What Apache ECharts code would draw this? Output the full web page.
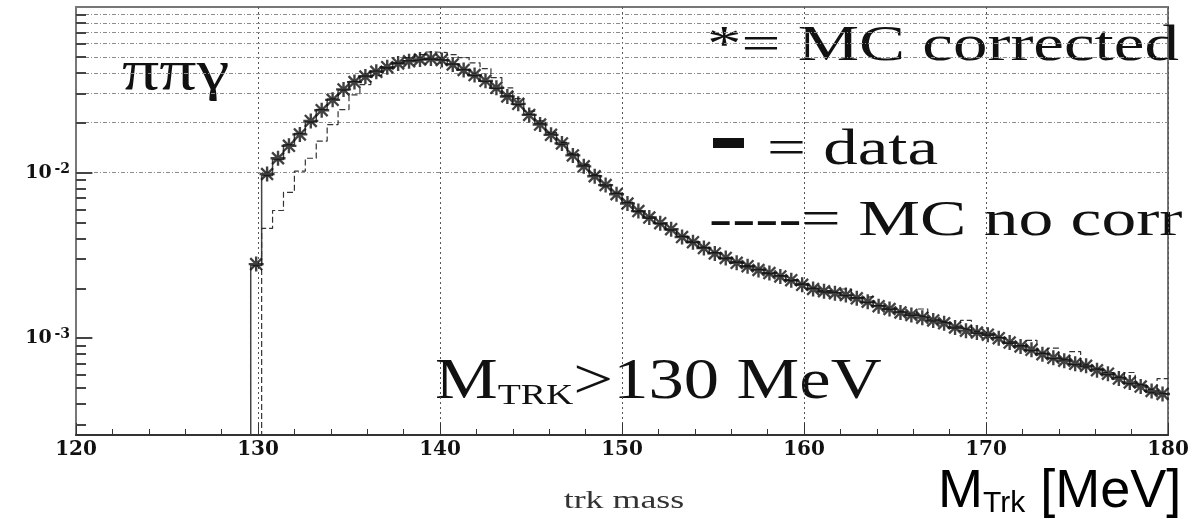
<!DOCTYPE html>
<html>
<head>
<meta charset="utf-8">
<script src="https://cdn.jsdelivr.net/npm/echarts@6/dist/echarts.min.js"></script>
<style>
html, body { margin: 0; padding: 0; background: #fff; }
#chart { width: 1193px; height: 519px; }
</style>
</head>
<body>
<div id="chart"></div>
<script>
// Axis ranges
const X_MIN = 120, X_MAX = 180, X_STEP = 10;
const Y_MIN = 2.6e-4, Y_MAX = 0.1;

// Histogram binning (0.6 MeV bins, first filled bin starts at 129.6 MeV)
const BIN_START = 129.6, BIN_WIDTH = 0.6;

// Decade labels on the log axis
const yDecades = [1e-3, 1e-2];
const yDecadeExp = ['-3', '-2'];

// Horizontal grid levels (2..9 x 10^n)
const yGridValues = [
  3e-4, 4e-4, 5e-4, 6e-4, 7e-4, 8e-4, 9e-4,
  1e-3, 2e-3, 3e-3, 4e-3, 5e-3, 6e-3, 7e-3, 8e-3, 9e-3,
  1e-2, 2e-2, 3e-2, 4e-2, 5e-2, 6e-2, 7e-2, 8e-2, 9e-2
];

// MC with corrections (asterisks), per bin
const mcCorrected = [
  2.8e-3, 9.8e-3, 1.22e-2, 1.45e-2, 1.70e-2, 2.05e-2, 2.38e-2, 2.75e-2, 3.18e-2, 3.52e-2,
  3.80e-2, 4.06e-2, 4.33e-2, 4.56e-2, 4.70e-2, 4.82e-2, 4.88e-2, 4.78e-2, 4.50e-2, 4.17e-2,
  3.88e-2, 3.58e-2, 3.25e-2, 2.88e-2, 2.60e-2, 2.23e-2, 1.95e-2, 1.69e-2, 1.50e-2, 1.27e-2,
  1.09e-2, 9.5e-3, 8.4e-3, 7.4e-3, 6.5e-3, 5.85e-3, 5.35e-3, 4.95e-3, 4.55e-3, 4.08e-3,
  3.80e-3, 3.50e-3, 3.25e-3, 3.05e-3, 2.85e-3, 2.72e-3, 2.58e-3, 2.47e-3, 2.36e-3, 2.24e-3,
  2.10e-3, 1.98e-3, 1.92e-3, 1.87e-3, 1.82e-3, 1.74e-3, 1.66e-3, 1.56e-3, 1.50e-3, 1.43e-3,
  1.38e-3, 1.33e-3, 1.28e-3, 1.23e-3, 1.16e-3, 1.11e-3, 1.08e-3, 1.05e-3, 1.00e-3, 9.4e-4,
  8.9e-4, 8.5e-4, 8.0e-4, 7.6e-4, 7.3e-4, 7.0e-4, 6.8e-4, 6.4e-4, 6.1e-4, 5.7e-4,
  5.4e-4, 5.1e-4, 4.8e-4, 4.6e-4
];

// Data histogram (solid), per bin
const dataHist = [
  2.75e-3, 9.6e-3, 1.20e-2, 1.47e-2, 1.72e-2, 2.02e-2, 2.40e-2, 2.78e-2, 3.15e-2, 3.55e-2,
  3.83e-2, 4.10e-2, 4.30e-2, 4.58e-2, 4.74e-2, 4.85e-2, 4.84e-2, 4.75e-2, 4.53e-2, 4.20e-2,
  3.85e-2, 3.55e-2, 3.22e-2, 2.90e-2, 2.57e-2, 2.25e-2, 1.97e-2, 1.71e-2, 1.48e-2, 1.28e-2,
  1.10e-2, 9.6e-3, 8.3e-3, 7.5e-3, 6.6e-3, 5.8e-3, 5.3e-3, 4.9e-3, 4.5e-3, 4.12e-3,
  3.78e-3, 3.52e-3, 3.28e-3, 3.02e-3, 2.87e-3, 2.70e-3, 2.60e-3, 2.45e-3, 2.38e-3, 2.22e-3,
  2.12e-3, 2.00e-3, 1.90e-3, 1.88e-3, 1.80e-3, 1.75e-3, 1.64e-3, 1.57e-3, 1.49e-3, 1.44e-3,
  1.37e-3, 1.34e-3, 1.27e-3, 1.24e-3, 1.15e-3, 1.12e-3, 1.07e-3, 1.04e-3, 1.01e-3, 9.3e-4,
  9.0e-4, 8.4e-4, 8.1e-4, 7.5e-4, 7.4e-4, 6.9e-4, 6.7e-4, 6.5e-4, 6.0e-4, 5.8e-4,
  5.3e-4, 5.2e-4, 4.7e-4, 4.6e-4
];

// MC without corrections (dashed), per bin; 0 = empty bin
const mcNoCorr = [
  0, 4.6e-3, 5.9e-3, 7.6e-3, 1.02e-2, 1.22e-2, 1.55e-2, 1.95e-2, 2.40e-2, 2.95e-2,
  3.40e-2, 3.85e-2, 4.25e-2, 4.60e-2, 4.95e-2, 5.15e-2, 5.35e-2, 5.30e-2, 5.15e-2, 4.95e-2,
  4.60e-2, 4.25e-2, 3.75e-2, 3.25e-2, 2.80e-2, 2.35e-2, 2.05e-2, 1.75e-2, 1.52e-2, 1.30e-2,
  1.12e-2, 9.7e-3, 8.5e-3, 7.5e-3, 6.6e-3, 5.9e-3, 5.4e-3, 4.9e-3, 4.5e-3, 4.1e-3,
  3.85e-3, 3.55e-3, 3.30e-3, 3.05e-3, 2.90e-3, 2.75e-3, 2.60e-3, 2.50e-3, 2.38e-3, 2.25e-3,
  2.12e-3, 2.00e-3, 1.93e-3, 1.88e-3, 1.98e-3, 1.76e-3, 1.78e-3, 1.58e-3, 1.52e-3, 1.45e-3,
  1.40e-3, 1.50e-3, 1.30e-3, 1.25e-3, 1.18e-3, 1.28e-3, 1.10e-3, 1.06e-3, 1.01e-3, 9.5e-4,
  9.0e-4, 9.7e-4, 8.1e-4, 8.7e-4, 7.4e-4, 8.3e-4, 6.9e-4, 6.5e-4, 6.2e-4, 5.8e-4,
  6.2e-4, 5.2e-4, 4.9e-4, 5.7e-4
];

// ---- derived series geometry ----
const binLow = mcCorrected.map((_, i) => +(BIN_START + i * BIN_WIDTH).toFixed(2));
const binHigh = +(BIN_START + mcCorrected.length * BIN_WIDTH).toFixed(2);

// Step outline of a histogram: rise from the floor, flat top over each bin
function histogramOutline(values) {
  const pts = [[BIN_START, Y_MIN]];
  values.forEach((v, i) => pts.push([binLow[i], v > 0 ? v : Y_MIN]));
  pts.push([binHigh, values[values.length - 1]]);
  return pts;
}

const asteriskPoints = mcCorrected.map((v, i) => [+(binLow[i] + BIN_WIDTH / 2).toFixed(2), v]);

// "*" marker: horizontal, vertical and two diagonal strokes
const ASTERISK = 'path://M0 8.4H20V11.6H0Z M8.4 0H11.6V20H8.4Z M1 3.2L3.2 1L19 16.8L16.8 19Z M16.8 1L19 3.2L3.2 19L1 16.8Z';

const SERIF = '"Liberation Serif", "Times New Roman", serif';
const WIDE_SERIF = '"DejaVu Serif", "Liberation Serif", serif';
const SANS = '"Liberation Sans", Arial, sans-serif';

const chart = echarts.init(document.getElementById('chart'));

chart.setOption({
  animation: false,
  backgroundColor: '#fff',
  grid: {
    left: 76, right: 25, top: 7, bottom: 84,
    show: true, borderColor: '#777', borderWidth: 2, backgroundColor: 'transparent'
  },
  xAxis: {
    type: 'value', min: X_MIN, max: X_MAX, interval: X_STEP,
    axisLine: { show: true, onZero: false, lineStyle: { color: '#333', width: 2 } },
    axisTick: { show: true, inside: true, length: 12, lineStyle: { color: '#333', width: 1 } },
    minorTick: { show: true, splitNumber: 5, length: 6, lineStyle: { color: '#333', width: 1 } },
    axisLabel: {
      margin: 5, color: '#111', fontFamily: WIDE_SERIF, fontWeight: 'bold', fontSize: 20
    },
    splitLine: { show: true, lineStyle: { color: '#555', type: [2, 3], width: 1 } }
  },
  yAxis: {
    type: 'log', logBase: 10, min: Y_MIN, max: Y_MAX,
    axisLine: { show: true, lineStyle: { color: '#777', width: 2 } },
    axisTick: { show: false },
    splitLine: { show: false },
    axisLabel: {
      margin: 6,
      formatter: function (v) {
        for (let i = 0; i < yDecades.length; i++) {
          if (Math.abs(Math.log10(v) - Math.log10(yDecades[i])) < 1e-6) {
            return '{b|10}{g| }{e|' + yDecadeExp[i] + '}';
          }
        }
        return '';
      },
      rich: {
        b: { fontFamily: WIDE_SERIF, fontWeight: 'bold', fontSize: 19, color: '#111',
             lineHeight: 21, padding: [13, 0, 13, 0], verticalAlign: 'middle' },
        g: { fontSize: 10, lineHeight: 10, verticalAlign: 'middle' },
        e: { fontFamily: WIDE_SERIF, fontWeight: 'bold', fontSize: 14, color: '#111',
             lineHeight: 16, verticalAlign: 'top' }
      }
    }
  },
  series: [
    {
      name: 'data', type: 'line', step: 'end', showSymbol: false, symbol: 'none',
      data: histogramOutline(dataHist),
      lineStyle: { color: '#444', width: 1.5 },
      z: 3,
      markLine: {
        silent: true, symbol: 'none', label: { show: false },
        lineStyle: { color: '#8c8c8c', type: [4, 2, 1, 2], width: 1 },
        data: yGridValues.map(v => ({ yAxis: v })),
        z: 1
      }
    },
    {
      name: 'MC no corr', type: 'line', step: 'end', showSymbol: false, symbol: 'none',
      data: histogramOutline(mcNoCorr),
      lineStyle: { color: '#333', width: 1.2, type: [6, 3] },
      z: 4,
      markLine: {
        silent: true, symbol: 'none', label: { show: false },
        lineStyle: { color: '#444', type: 'solid', width: 2 },
        data: yGridValues.map(v => {
          const len = yDecades.indexOf(v) >= 0 ? 0.9 : 0.55;
          return [{ coord: [X_MIN, v] }, { coord: [X_MIN + len, v] }];
        }),
        z: 2
      }
    },
    {
      name: 'MC corrected', type: 'scatter',
      data: asteriskPoints,
      symbol: ASTERISK, symbolSize: 15,
      itemStyle: { color: '#111' },
      z: 5
    }
  ],
  graphic: [
    { type: 'text', x: 122, y: 74, scaleX: 1.32,
      style: { text: 'ππγ', font: '56px ' + SERIF, fill: '#111', verticalAlign: 'middle' } },
    { type: 'text', x: 707, y: 47, scaleX: 1.38,
      style: { text: '*= MC corrected', font: '50px ' + SERIF, fill: '#111', verticalAlign: 'middle' } },
    { type: 'rect', shape: { x: 713, y: 138, width: 31, height: 10 }, style: { fill: '#111' } },
    { type: 'text', x: 767, y: 151, scaleX: 1.38,
      style: { text: '= data', font: '50px ' + SERIF, fill: '#111', verticalAlign: 'middle' } },
    { type: 'text', x: 709, y: 222, scaleX: 1.39,
      style: { text: '----= MC no corr', font: '50px ' + SERIF, fill: '#111', verticalAlign: 'middle' } },
    { type: 'text', x: 435, y: 355, scaleX: 1.26,
      style: {
        text: '{m|M}{s|TRK}{m|>130 MeV}', fill: '#111', verticalAlign: 'top',
        rich: {
          m: { font: '56px ' + SERIF, lineHeight: 56, padding: [0, 0, 9, 0], verticalAlign: 'top' },
          s: { font: '30px ' + SERIF, lineHeight: 30, verticalAlign: 'bottom' }
        }
      } },
    { type: 'text', x: 624, y: 501, scaleX: 1.38,
      style: { text: 'trk mass', font: '26px ' + SERIF, fill: '#333', align: 'center', verticalAlign: 'middle' } },
    { type: 'text', x: 938, y: 465,
      style: {
        text: '{m|M}{s|Trk}{m| [MeV]}', fill: '#000', verticalAlign: 'top',
        rich: {
          m: { font: '54px ' + SANS, lineHeight: 54, verticalAlign: 'top' },
          s: { font: '30px ' + SANS, lineHeight: 30, verticalAlign: 'bottom' }
        }
      } }
  ]
});
</script>
</body>
</html>
